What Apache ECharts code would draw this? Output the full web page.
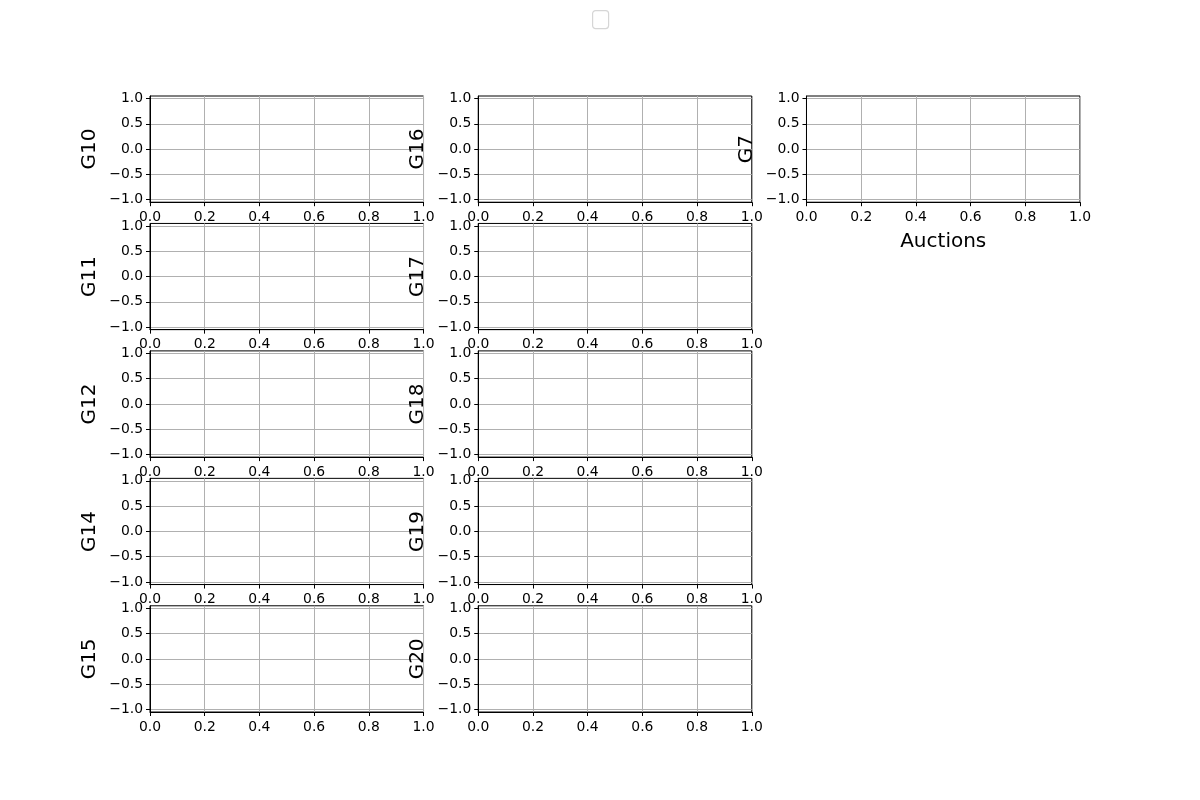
<!DOCTYPE html>
<html>
<head>
<meta charset="utf-8">
<script src="https://cdn.jsdelivr.net/npm/echarts@6/dist/echarts.min.js"></script>
<style>html,body{margin:0;padding:0;background:#fff}#c{width:1200px;height:800px}</style>
</head>
<body>
<div id="c"></div>
<script>
// ---- data ----
const panelNames = ['G10', 'G11', 'G12', 'G14', 'G15', 'G16', 'G17', 'G18', 'G19', 'G20', 'G7'];
const panelRows  = [0, 1, 2, 3, 4, 0, 1, 2, 3, 4, 0];
const panelCols  = [0, 0, 0, 0, 0, 1, 1, 1, 1, 1, 2];
const xTicks = [0.0, 0.2, 0.4, 0.6, 0.8, 1.0];
const yTicks = [-1.0, -0.5, 0.0, 0.5, 1.0];
const xLabelText = 'Auctions';
const xLabelPanel = 'G7';
const seriesValues = {}; // every panel is empty in the reference

// ---- layout (matplotlib default subplot params) ----
const W = 1200, H = 800;
const figLeft = 0.125 * W, figRight = 0.9 * W, figTop = (1 - 0.88) * H, figBottom = (1 - 0.11) * H;
const nRows = 5, nCols = 3, wspace = 0.2, hspace = 0.2;
const cellW = (figRight - figLeft) / (nCols + (nCols - 1) * wspace);
const cellH = (figBottom - figTop) / (nRows + (nRows - 1) * hspace);

const font = 'DejaVu Sans';
const grids = [], xAxes = [], yAxes = [], series = [];
const fmt = v => (Math.round(v * 10) / 10).toFixed(1).replace('-', '\u2212');

panelNames.forEach((name, i) => {
  const left = figLeft + panelCols[i] * cellW * (1 + wspace);
  const top = figTop + panelRows[i] * cellH * (1 + hspace);
  grids.push({
    left: left, top: top, width: cellW, height: cellH,
    show: true, borderColor: '#000', borderWidth: 1, backgroundColor: 'transparent'
  });
  xAxes.push({
    type: 'value', gridIndex: i, min: xTicks[0], max: xTicks[xTicks.length - 1], interval: 0.2,
    name: name === xLabelPanel ? xLabelText : '',
    nameLocation: 'middle', nameGap: 30,
    nameTextStyle: { fontFamily: font, fontSize: 20, color: '#000' },
    axisLine: { show: true, onZero: false, lineStyle: { color: '#000', width: 1 } },
    axisTick: { show: true, inside: false, length: 4, lineStyle: { color: '#000', width: 1 } },
    axisLabel: { show: true, margin: 8, fontFamily: font, fontSize: 13.9, color: '#000', formatter: fmt, showMinLabel: true, showMaxLabel: true },
    splitLine: { show: true, lineStyle: { color: '#b0b0b0', width: 1 } }
  });
  yAxes.push({
    type: 'value', gridIndex: i, min: -1.05, max: 1.05,
    name: name, nameLocation: 'middle', nameGap: 50, nameRotate: 90,
    nameTextStyle: { fontFamily: font, fontSize: 20, color: '#000' },
    axisLine: { show: true, onZero: false, lineStyle: { color: '#000', width: 1 } },
    axisTick: { show: true, inside: false, length: 4, customValues: yTicks, lineStyle: { color: '#000', width: 1 } },
    axisLabel: { show: true, margin: 7, fontFamily: font, fontSize: 13.9, color: '#000', customValues: yTicks, formatter: fmt },
    splitLine: { show: true, lineStyle: { color: '#b0b0b0', width: 1 } }
  });
  series.push({
    type: 'line', xAxisIndex: i, yAxisIndex: i, data: seriesValues[name] || [], silent: true
  });
});

const chart = echarts.init(document.getElementById('c'), null, { renderer: 'canvas' });
chart.setOption({
  animation: false,
  backgroundColor: '#fff',
  grid: grids, xAxis: xAxes, yAxis: yAxes, series: series,
  graphic: [{
    type: 'rect', left: 592, top: 10,
    shape: { width: 16, height: 18, r: 3 },
    style: { fill: '#fff', stroke: '#d6d6d6', lineWidth: 1.2 }
  }]
});
</script>
</body>
</html>
